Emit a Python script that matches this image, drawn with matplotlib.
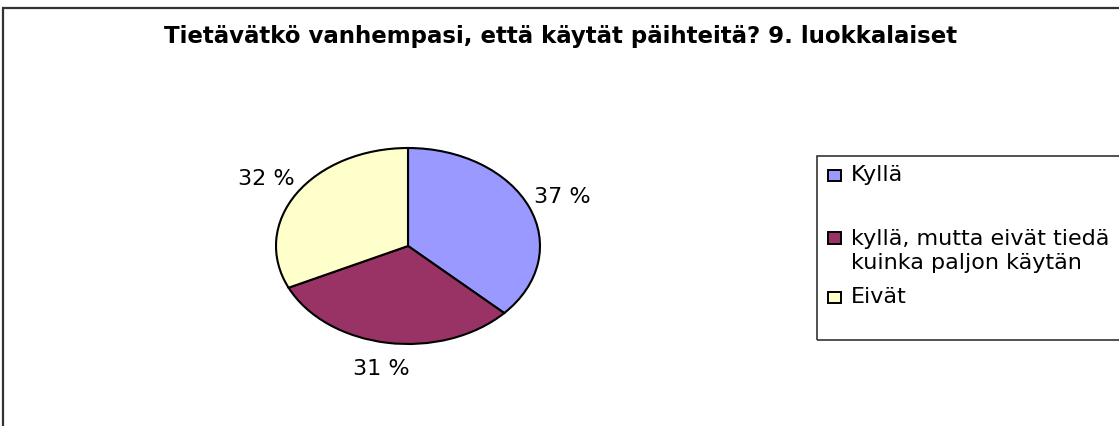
import matplotlib
matplotlib.use("Agg")
import matplotlib.pyplot as plt
from matplotlib.patches import Rectangle

title = "Tietävätkö vanhempasi, että käytät päihteitä? 9. luokkalaiset"
categories = ["Kyllä", "kyllä, mutta eivät tiedä\nkuinka paljon käytän", "Eivät"]
values = [37, 31, 32]
colors = ["#9999FF", "#993366", "#FFFFCC"]

W, H = 1119, 426
plt.rcParams['font.family'] = ['DejaVu Sans']
fig = plt.figure(figsize=(W / 100, H / 100), dpi=100)

def fx(px):
    return px / W

def fy(py):
    return 1 - py / H

# outer chart border (only top and left visible in reference)
fig.patches.append(Rectangle((fx(3), fy(430)), fx(1130) - fx(3), fy(8) - fy(430),
                             transform=fig.transFigure, fill=False,
                             edgecolor="#333333", linewidth=1.6))

fig.text(fx(561), fy(37), title, ha="center", va="center",
         fontsize=16.5, fontweight="bold")

# pie (elliptical, as in the reference)
cx, cy, rx, ry = 408, 246, 132, 98
ax = fig.add_axes([fx(cx - rx), fy(cy + ry), fx(2 * rx), fy(cy - ry) - fy(cy + ry)])
ax.pie(values, colors=colors, startangle=90, counterclock=False,
       wedgeprops=dict(edgecolor="black", linewidth=1.5),
       autopct=lambda p: f"{p:.0f} %", pctdistance=1.27,
       textprops=dict(fontsize=16, color="black"))
ax.set_aspect("auto")
ax.set_xlim(-1, 1)
ax.set_ylim(-1, 1)
ax.axis("off")

# legend box (extends past right edge like the reference)
fig.patches.append(Rectangle((fx(817), fy(340)), fx(1135) - fx(817), fy(156) - fy(340),
                             transform=fig.transFigure, fill=False,
                             edgecolor="#333333", linewidth=1.2))
marker_y = [175, 238, 297]
for lab, col, my in zip(categories, colors, marker_y):
    fig.patches.append(Rectangle((fx(828), fy(my + 5.5)), fx(13), fy(0) - fy(11),
                                 transform=fig.transFigure, facecolor=col,
                                 edgecolor="black", linewidth=1.4))
    nlines = lab.count("\n") + 1
    fig.text(fx(851), fy(my + 13 * (nlines - 1)), lab, ha="left", va="center",
             fontsize=16, linespacing=1.3)

fig.savefig("out.png", dpi=100)
